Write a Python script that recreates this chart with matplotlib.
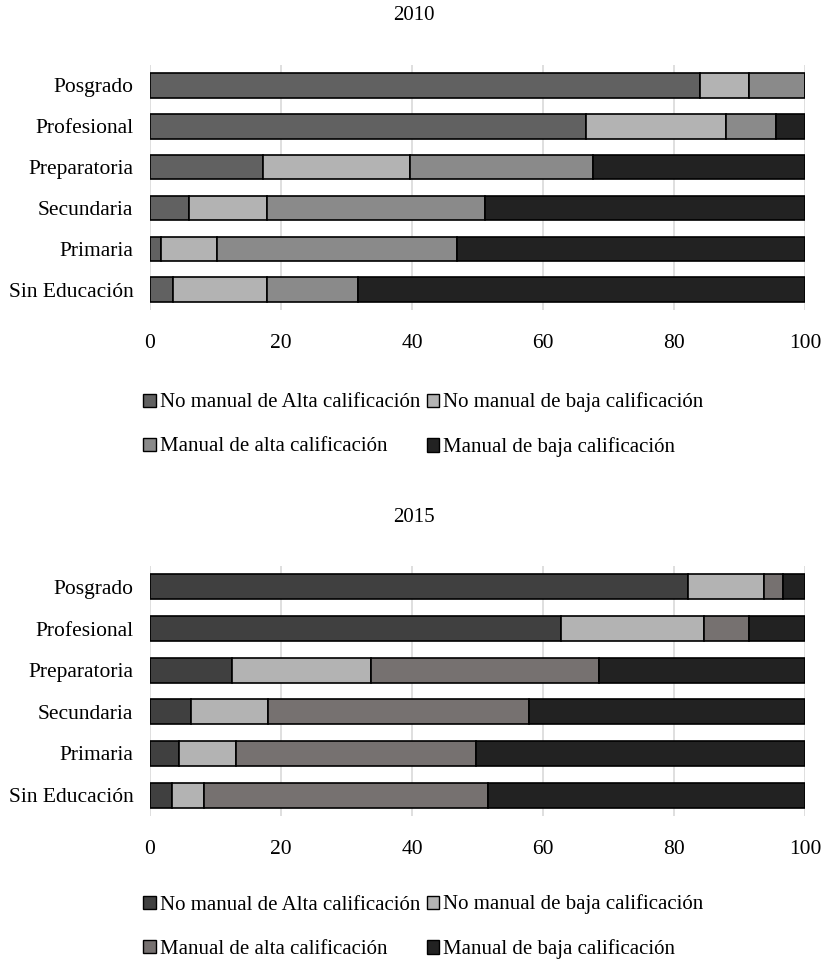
import matplotlib
matplotlib.use("Agg")
import matplotlib.pyplot as plt
from matplotlib.patches import Patch

plt.rcParams['font.family'] = ['Liberation Serif', 'DejaVu Serif']

categories = ["Posgrado", "Profesional", "Preparatoria", "Secundaria", "Primaria", "Sin Educación"]
series_names = ["No manual de Alta calificación", "No manual de baja calificación",
                "Manual de alta calificación", "Manual de baja calificación"]

# 2010 shares (%) by education level, order matches `categories`
nm_alta_2010 = [83.9, 66.6, 17.2, 6.0, 1.7, 3.5]
nm_baja_2010 = [7.6, 21.4, 22.5, 11.8, 8.6, 14.3]
m_alta_2010 = [8.5, 7.5, 27.9, 33.4, 36.5, 14.0]
m_baja_2010 = [0.0, 4.5, 32.4, 48.8, 53.2, 68.2]

# 2015 shares (%)
nm_alta_2015 = [82.1, 62.7, 12.5, 6.2, 4.5, 3.3]
nm_baja_2015 = [11.7, 21.9, 21.2, 11.8, 8.7, 4.9]
m_alta_2015 = [2.9, 6.8, 34.9, 39.8, 36.6, 43.4]
m_baja_2015 = [3.3, 8.6, 31.4, 42.2, 50.2, 48.4]

xticks = [0, 20, 40, 60, 80, 100]

colors_2010 = ["#616161", "#b3b3b3", "#8a8a8a", "#222222"]
colors_2015 = ["#404040", "#b3b3b3", "#767170", "#222222"]

W, H = 824, 966
fig = plt.figure(figsize=(W / 100, H / 100), dpi=100)


def panel(top_px, bottom_px, title, title_y, series, colors, leg_y):
    ax = fig.add_axes([150 / W, 1 - bottom_px / H, 655 / W, (bottom_px - top_px) / H])
    ypos = list(range(len(categories)))
    left = [0.0] * len(categories)
    for vals, col in zip(series, colors):
        ax.barh(ypos, vals, left=left, height=0.6, color=col,
                edgecolor="black", linewidth=1.2, zorder=3)
        left = [l + v for l, v in zip(left, vals)]
    ax.set_ylim(len(categories) - 0.5, -0.5)
    ax.set_xlim(0, 100)
    ax.set_yticks(ypos)
    ax.set_yticklabels(categories)
    ax.set_xticks(xticks)
    ax.tick_params(axis="x", length=0, pad=17, labelsize=15.5)
    ax.tick_params(axis="y", length=0, pad=12, labelsize=15.5)
    ax.grid(axis="x", color="#d9d9d9", linewidth=1.2, zorder=0)
    for s in ax.spines.values():
        s.set_visible(False)
    fig.text(414 / W, 1 - title_y / H, title, ha="center", va="center", fontsize=15)
    handles = [Patch(facecolor=c, edgecolor="black", linewidth=1.0) for c in colors]
    # legend fills column by column; order so rows read left to right
    order = [0, 2, 1, 3]
    fig.legend([handles[i] for i in order], [series_names[i] for i in order],
               loc="center left", bbox_to_anchor=(135 / W, 1 - leg_y / H), ncol=2,
               frameon=False, fontsize=15, handlelength=0.6, handleheight=0.6,
               handletextpad=0.2, columnspacing=0.3, labelspacing=1.2,
               borderaxespad=0)
    return ax


panel(65, 310, "2010", 16,
      [nm_alta_2010, nm_baja_2010, m_alta_2010, m_baja_2010], colors_2010, 425)
panel(566, 816, "2015", 518,
      [nm_alta_2015, nm_baja_2015, m_alta_2015, m_baja_2015], colors_2015, 927)

fig.savefig("out.png", dpi=100, facecolor="white")
